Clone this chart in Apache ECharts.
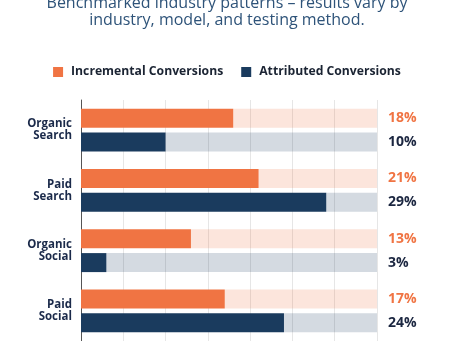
<!DOCTYPE html>
<html><head><meta charset="utf-8">
<script src="https://cdn.jsdelivr.net/npm/echarts@6/dist/echarts.min.js"></script>
<style>html,body{margin:0;padding:0;background:#fff}#c{width:454px;height:341px}</style>
</head><body><div id="c"></div>
<script>
const categories = ['Organic\nSearch', 'Paid\nSearch', 'Organic\nSocial', 'Paid\nSocial'];
const incremental = [18, 21, 13, 17];
const attributed = [10, 29, 3, 24];
const axisMax = 35;
const seriesNames = ['Incremental Conversions', 'Attributed Conversions'];
const titleLines = ['Benchmarked industry patterns \u2013 results vary by', 'industry, model, and testing method.'];

const ORANGE = '#f07443', NAVY = '#1a3b5e';
const chart = echarts.init(document.getElementById('c'));
const font = '"Open Sans", sans-serif';
function rest(arr){ return arr.map(v => axisMax - v); }
chart.setOption({
  animation: false,
  graphic: titleLines.map((t, i) => ({
    type: 'text', x: 227, y: 3 + i * 17,
    style: { text: t, textAlign: 'center', textVerticalAlign: 'middle', fontFamily: font, fontSize: 16, fill: '#2e5379' }
  })),
  legend: {
    data: seriesNames, top: 61, left: 'center', itemGap: 18,
    itemWidth: 10, itemHeight: 10, icon: 'rect',
    textStyle: { fontFamily: font, fontSize: 12.2, fontWeight: 'bold', color: '#1b2433', padding: [0,0,0,3] }
  },
  grid: { left: 81, right: 77, top: 100, bottom: 0, containLabel: false },
  xAxis: {
    type: 'value', min: 0, max: axisMax, interval: 5,
    axisLabel: { show: false }, axisLine: { show: false }, axisTick: { show: false },
    splitLine: { show: true, lineStyle: { color: '#e6e6e6', width: 1 } }
  },
  yAxis: {
    type: 'category', data: categories, inverse: true,
    axisLine: { show: true, lineStyle: { color: '#555', width: 1 } },
    axisTick: { show: false },
    axisLabel: { fontFamily: font, fontSize: 11.5, fontWeight: 'bold', color: '#1b2a4a', lineHeight: 12, margin: 9, align: 'right' }
  },
  series: [
    { name: seriesNames[0], type: 'bar', stack: 'inc', data: incremental, barWidth: 19, barGap: '26%',
      itemStyle: { color: ORANGE } },
    { name: 'incRest', type: 'bar', stack: 'inc', data: rest(incremental), barWidth: 19,
      itemStyle: { color: 'rgba(240,116,67,0.19)' }, silent: true,
      label: { show: true, position: 'right', distance: 11, formatter: p => incremental[p.dataIndex] + '%',
        fontFamily: font, fontSize: 14, fontWeight: 'bold', color: '#f07443' } },
    { name: seriesNames[1], type: 'bar', stack: 'att', data: attributed, barWidth: 19,
      itemStyle: { color: NAVY } },
    { name: 'attRest', type: 'bar', stack: 'att', data: rest(attributed), barWidth: 19,
      itemStyle: { color: 'rgba(26,59,94,0.19)' }, silent: true,
      label: { show: true, position: 'right', distance: 11, formatter: p => attributed[p.dataIndex] + '%',
        fontFamily: font, fontSize: 14, fontWeight: 'bold', color: '#1b2640' } }
  ]
});
</script></body></html>
